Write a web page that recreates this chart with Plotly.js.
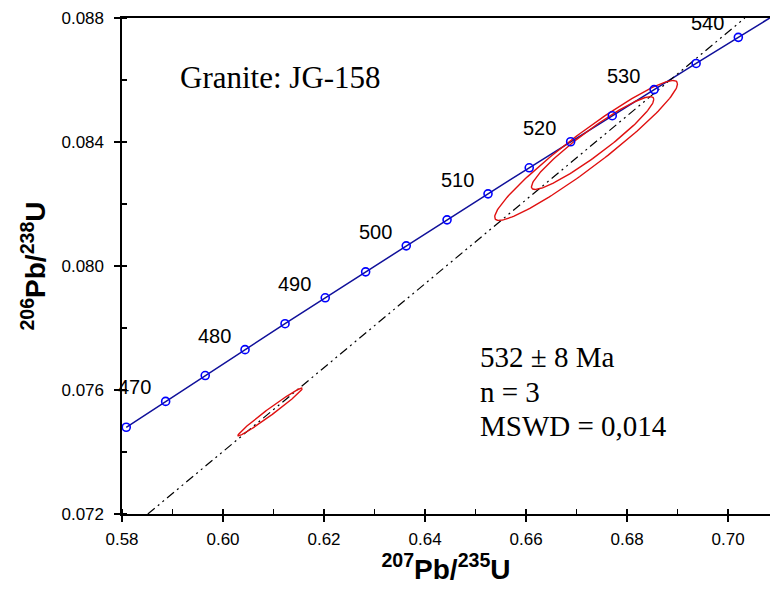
<!DOCTYPE html>
<html>
<head>
<meta charset="utf-8">
<script src="https://cdn.plot.ly/plotly-3.0.1.min.js"></script>
<style>
  html, body { margin: 0; padding: 0; background: #fff; overflow: hidden; }
  #chart { width: 770px; height: 592px; }
</style>
</head>
<body>
<div id="chart"></div>
<script>
// Concordia reference ages (Ma) and the matching isotope ratios
const concAges = [465, 470, 475, 480, 485, 490, 495, 500, 505, 510, 515, 520, 525, 530, 535, 540, 545];
const concX = [0.58084, 0.58864, 0.59648, 0.60436, 0.61228, 0.62024, 0.62824, 0.63628, 0.64436,
               0.65247, 0.66063, 0.66883, 0.67707, 0.68535, 0.69367, 0.70203, 0.71043];
const concY = [0.074798, 0.075632, 0.076467, 0.077302, 0.078138, 0.078975, 0.079812, 0.080650, 0.081488,
               0.082327, 0.083167, 0.084008, 0.084849, 0.085691, 0.086533, 0.087376, 0.088220];
const labelAges = [470, 480, 490, 500, 510, 520, 530, 540];

// Zircon analyses: 207Pb/235U, 206Pb/238U, error half-widths and error correlation
const spotX = [0.60932, 0.67318, 0.67189];
const spotY = [0.075293, 0.083966, 0.083727];
const spotErrX = [0.006379, 0.012114, 0.018097];
const spotErrY = [0.000772, 0.001496, 0.002256];
const spotRho = [0.9852, 0.9420, 0.9520];

// Discordia line through the analyses
const discX = [0.58511, 0.70332];
const discY = [0.072, 0.088];

// Error ellipse outline from centre, half-widths and correlation
function ellipse(cx, cy, sx, sy, rho) {
  const xs = [], ys = [];
  const k = Math.sqrt(1 - rho * rho);
  for (let i = 0; i <= 180; i++) {
    const t = 2 * Math.PI * i / 180;
    xs.push(cx + sx * Math.cos(t));
    ys.push(cy + sy * (rho * Math.cos(t) + k * Math.sin(t)));
  }
  return { xs, ys };
}

const traces = [];

traces.push({
  x: concX, y: concY, type: 'scatter', mode: 'lines',
  line: { color: '#10109a', width: 1.5 }, hoverinfo: 'skip', showlegend: false
});

traces.push({
  x: discX, y: discY, type: 'scatter', mode: 'lines',
  line: { color: '#000000', width: 1.2, dash: '9px,4px,2px,4px,2px,4px' },
  hoverinfo: 'skip', showlegend: false
});

for (let i = 0; i < spotX.length; i++) {
  const e = ellipse(spotX[i], spotY[i], spotErrX[i], spotErrY[i], spotRho[i]);
  traces.push({
    x: e.xs, y: e.ys, type: 'scatter', mode: 'lines',
    line: { color: '#e01010', width: 1.4 }, hoverinfo: 'skip', showlegend: false
  });
}

traces.push({
  x: concX, y: concY, type: 'scatter', mode: 'markers',
  marker: { symbol: 'circle-open', size: 8, color: '#0000ff', line: { width: 1.6 } },
  hoverinfo: 'skip', showlegend: false
});

const annotations = [];
labelAges.forEach(a => {
  const i = concAges.indexOf(a);
  annotations.push({
    x: concX[i], y: concY[i], xref: 'x', yref: 'y', text: String(a), showarrow: false,
    xshift: -31, yshift: 14,
    font: { family: 'Liberation Sans, Arial, sans-serif', size: 20, color: '#000' }
  });
});

const serif = { family: 'Liberation Serif, Times New Roman, serif', color: '#000' };
annotations.push({
  xref: 'paper', yref: 'paper', x: 0.0857, y: 0.881, xanchor: 'left', yanchor: 'middle',
  text: 'Granite: JG-158', showarrow: false, font: Object.assign({ size: 31 }, serif)
});
const statLines = ['532 ± 8 Ma', 'n = 3', 'MSWD = 0,014'];
const statY = [0.3160, 0.2455, 0.1770];
statLines.forEach((s, i) => {
  annotations.push({
    xref: 'paper', yref: 'paper', x: 0.549, y: statY[i], xanchor: 'left', yanchor: 'middle',
    text: s, showarrow: false, font: Object.assign({ size: 29 }, serif)
  });
});

const tickFont = { family: 'Liberation Sans, Arial, sans-serif', size: 17, color: '#000' };
const titleFont = { family: 'Liberation Sans, Arial, sans-serif', size: 28, color: '#000' };

const layout = {
  width: 770, height: 592,
  margin: { l: 122, r: 0, t: 18, b: 78 },
  paper_bgcolor: '#fff', plot_bgcolor: '#fff',
  showlegend: false,
  xaxis: {
    range: [0.58, 0.7083], tick0: 0.58, dtick: 0.02, tickformat: '.2f',
    ticks: 'outside', ticklen: 6, tickwidth: 1.5, tickcolor: '#000',
    showline: true, linecolor: '#000', linewidth: 1.6, mirror: true,
    showgrid: false, zeroline: false, tickfont: tickFont, ticklabelstandoff: 3,
    minor: { dtick: 0.01, ticks: 'inside', ticklen: 5, tickwidth: 1.3, tickcolor: '#000', showgrid: false },
    title: { text: '<b><sup>207</sup>Pb/<sup>235</sup>U</b>', font: titleFont, standoff: 9 }
  },
  xaxis2: {
    overlaying: 'x', anchor: 'y', side: 'bottom', matches: 'x',
    range: [0.58, 0.7083], tick0: 0.58, dtick: 0.02,
    ticks: 'inside', ticklen: 5, tickwidth: 1.5, tickcolor: '#000',
    showticklabels: false, showline: false, showgrid: false, zeroline: false
  },
  yaxis: {
    range: [0.072, 0.088], tick0: 0.072, dtick: 0.004, tickformat: '.3f',
    ticks: 'outside', ticklen: 6, tickwidth: 1.5, tickcolor: '#000',
    showline: true, linecolor: '#000', linewidth: 1.6, mirror: false,
    showgrid: false, zeroline: false, tickfont: tickFont, ticklabelstandoff: 7,
    minor: { dtick: 0.002, ticks: 'inside', ticklen: 5, tickwidth: 1.3, tickcolor: '#000', showgrid: false },
    title: { text: '<b><sup>206</sup>Pb/<sup>238</sup>U</b>', font: titleFont, standoff: 7 }
  },
  yaxis2: {
    overlaying: 'y', anchor: 'x', side: 'left', matches: 'y',
    range: [0.072, 0.088], tick0: 0.072, dtick: 0.004,
    ticks: 'inside', ticklen: 5, tickwidth: 1.5, tickcolor: '#000',
    showticklabels: false, showline: false, showgrid: false, zeroline: false
  },
  annotations: annotations
};

// Invisible trace so the overlay axes carrying the inner major ticks are drawn
traces.push({ x: [0.60], y: [0.08], xaxis: 'x2', yaxis: 'y2', type: 'scatter', mode: 'markers',
  marker: { opacity: 0 }, hoverinfo: 'skip', showlegend: false });

Plotly.newPlot('chart', traces, layout, { staticPlot: true, displayModeBar: false });
</script>
</body>
</html>
